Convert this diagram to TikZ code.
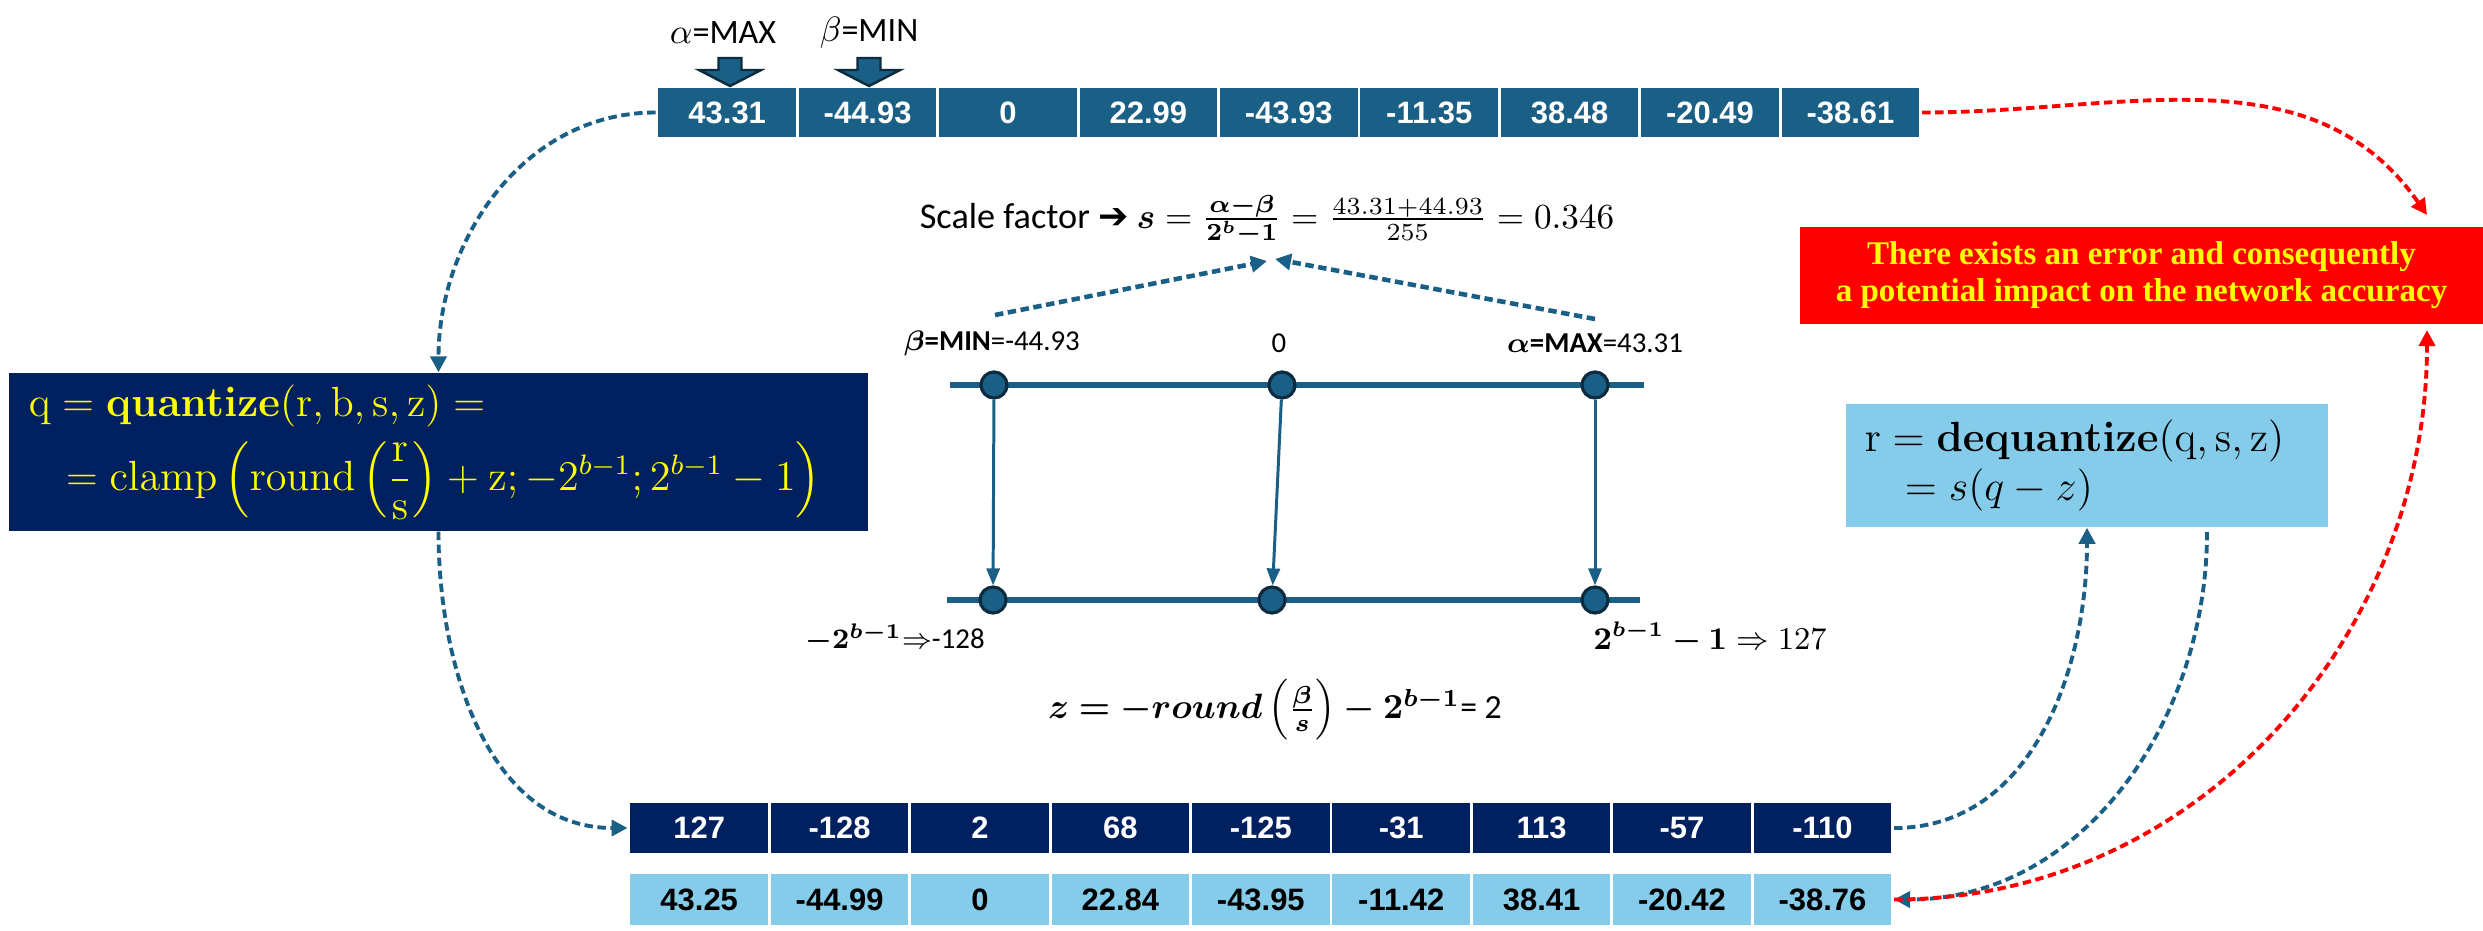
\documentclass[tikz,border=0pt]{standalone}
\usepackage{amsmath,amssymb,bm}
\usepackage[no-math]{fontspec}
\setmainfont{Carlito}
\newfontfamily\arialf{Liberation Sans}
\newfontfamily\serifb{Liberation Serif}
\newfontfamily\djv{DejaVu Sans}
\usetikzlibrary{arrows.meta,calc}
\definecolor{steel}{HTML}{1A6086}
\definecolor{dotedge}{HTML}{0D2B3E}
\definecolor{navy}{HTML}{002060}
\definecolor{lblue}{HTML}{85CBEA}
\definecolor{yel}{HTML}{FFFF00}
\newcommand\fs[2]{\fontsize{#1}{#2}\selectfont}
\tikzset{
 cellA/.style={draw=white, line width=0.8pt, fill=steel, text=white, minimum width=1.404cm, minimum height=0.51cm, inner sep=0pt, font=\arialf\bfseries\fs{8.8pt}{10pt}},
 cellQ/.style={cellA, fill=navy, minimum height=0.52cm},
 cellD/.style={cellA, fill=lblue, text=black, minimum height=0.53cm},
 dot/.style={circle, fill=steel, draw=dotedge, line width=0.9pt, minimum size=0.26cm, inner sep=0pt},
 numline/.style={steel, line width=1.5pt},
 maparrow/.style={steel, line width=0.85pt, -{Triangle[length=0.17cm,width=0.13cm]}},
 conn/.style={steel, line width=1.1pt, dash pattern=on 2.4pt off 1.3pt, -{Triangle[length=0.16cm,width=0.16cm]}},
 rconn/.style={conn, red},
 lbl/.style={inner sep=0pt, font=\fs{8.2pt}{10pt}},
 blockarrow/.style={fill=steel, draw=dotedge, line width=0.7pt, line join=miter},
}
\begin{document}
\begin{tikzpicture}[x=0.01cm, y=-0.01cm]
\fill[white] (0,0) rectangle (2483,930);
\useasboundingbox (0,0) rectangle (2483,930);

% top array
\foreach [count=\i] \v in {43.31,-44.93,0,22.99,-43.93,-11.35,38.48,-20.49,-38.61}
  \node[cellA] (t\i) at ({657+140.4*(\i-0.5)},112.5) {\v};
% bottom arrays
\foreach [count=\i] \v in {127,-128,2,68,-125,-31,113,-57,-110}
  \node[cellQ] (q\i) at ({629+140.4*(\i-0.5)},828) {\v};
\foreach [count=\i] \v in {43.25,-44.99,0,22.84,-43.95,-11.42,38.41,-20.42,-38.76}
  \node[cellD] (d\i) at ({629+140.4*(\i-0.5)},899.5) {\v};

% alpha / beta labels and block arrows
\node[inner sep=0pt, font=\fs{9.7pt}{11pt}] (la) at (723,33) {$\alpha$=MAX};
\node[inner sep=0pt, font=\fs{9.7pt}{11pt}] (lb) at (869,33) {$\beta$=MIN};
\foreach \x in {730,869}
  \filldraw[blockarrow] (\x-11.5,58) -- (\x+11.5,58) -- (\x+11.5,70) -- (\x+31,70) -- (\x,86) -- (\x-31,70) -- (\x-11.5,70) -- cycle;

% quantize box
\node[fill=navy, text=yel, minimum height=1.48cm, inner xsep=0.2cm, text width=8.19cm, align=left, font=\fs{12pt}{17pt}] (qbox) at (438.5,452)
 {$\mathrm{q} = \mathbf{quantize}(\mathrm{r}, \mathrm{b}, \mathrm{s}, \mathrm{z}) =$\\[4pt]
  \hspace*{0.37cm}$= \mathrm{clamp}\left(\mathrm{round}\left(\dfrac{\mathrm{r}}{\mathrm{s}}\right) + \mathrm{z}; -2^{b-1}; 2^{b-1} - 1\right)$};

% dequantize box
\node[fill=lblue, text=black, minimum height=1.23cm, inner xsep=0.19cm, text width=4.44cm, align=left, font=\fs{12.2pt}{14pt}] (dbox) at (2087,465.5)
 {$\mathrm{r} = \mathbf{dequantize}(\mathrm{q}, \mathrm{s}, \mathrm{z})$\\
  \hspace*{0.4cm}$= s(q - z)$};

% red box
\node[fill=red, text=yel, minimum width=6.83cm, minimum height=0.97cm, inner sep=0pt, align=center, font=\serifb\bfseries\fs{9.4pt}{10.5pt}] (rbox) at (2141.5,275.5)
 {There exists an error and consequently\\a potential impact on the network accuracy};

% scale factor
\node[inner sep=0pt, anchor=base, font=\fs{10.3pt}{12pt}] (sf) at (1267,228)
 {Scale factor {\djv ➔} $\bm{s} = \frac{\bm{\alpha-\beta}}{\bm{2^{b}-1}} = \frac{43.31+44.93}{255} = 0.346$};
\coordinate (sL) at (995,315);
\coordinate (sR) at (1595,319);
\coordinate (sT1) at (1267,261);
\coordinate (sT2) at (1275,259);
\draw[conn, line width=1.3pt] (sL) -- (sT1);
\draw[conn, line width=1.3pt] (sR) -- (sT2);

% number lines
\coordinate (L1) at (950,385); \coordinate (R1) at (1644,385);
\coordinate (L2) at (947,600); \coordinate (R2) at (1640,600);
\draw[numline] (L1) -- (R1);
\draw[numline] (L2) -- (R2);
\node[dot] (a1) at (994,385) {};
\node[dot] (a2) at (1282,385) {};
\node[dot] (a3) at (1595,385) {};
\node[dot] (b1) at (993,600) {};
\node[dot] (b2) at (1272,600) {};
\node[dot] (b3) at (1595,600) {};
\draw[maparrow] (a1) -- (b1);
\draw[maparrow] (a2) -- (b2);
\draw[maparrow] (a3) -- (b3);

\node[lbl] (lmin) at (992,343) {\textbf{$\bm\beta$=MIN}=-44.93};
\node[lbl] (lzero) at (1279,343) {0};
\node[lbl] (lmax) at (1595,343) {\textbf{$\bm\alpha$=MAX}=43.31};
\node[lbl] (lneg) at (895,638) {$\bm{-2^{b-1}}$$\Rightarrow$-128};
\node[lbl, font=\fs{9pt}{10pt}] (lpos) at (1710,638) {$\bm{2^{b-1}-1}\Rightarrow 127$};

% z formula
\node[inner sep=0pt, font=\fs{9.6pt}{12pt}] (zf) at (1275,710) {$\bm{z = -round\left(\frac{\beta}{s}\right) - 2^{b-1}}$= 2};

% connectors
\coordinate (dout) at (2207,532);
\coordinate (rtop) at (2427,215);
\coordinate (rbot) at (2427,330);
\draw[conn] (t1.west) to[out=180,in=90] (qbox.north);
\draw[conn] (qbox.south) to[out=-90,in=180] (q1.west);
\draw[conn] (q9.east) to[out=0,in=-90] (dbox.south);
\draw[conn] (dout) to[out=-90,in=0] (d9.east);
\draw[rconn] (t9.east) to[out=0,in=125] (rtop);
\draw[rconn] (d9.east) to[out=0,in=-90] (rbot);
\end{tikzpicture}
\end{document}
